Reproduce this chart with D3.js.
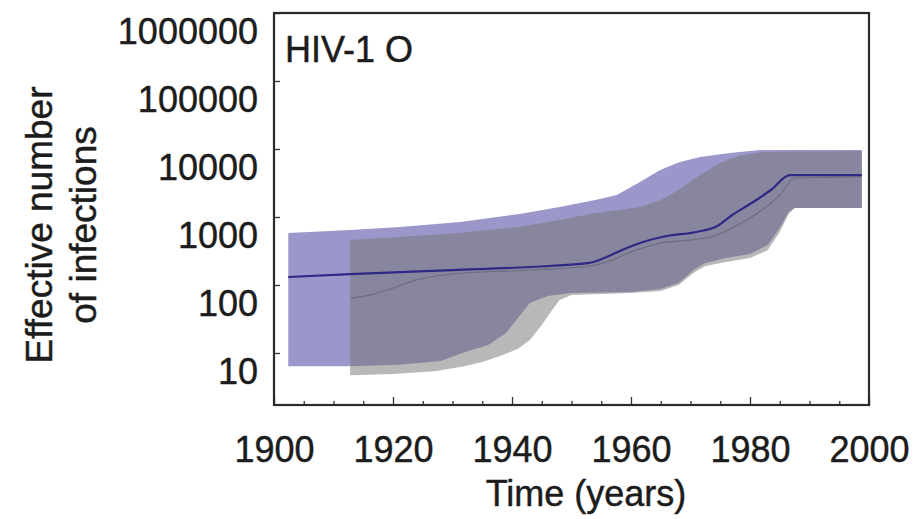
<!DOCTYPE html>
<html>
<head>
<meta charset="utf-8">
<script src="https://cdn.jsdelivr.net/npm/d3@7"></script>
<style>
  html, body { margin: 0; padding: 0; background: #ffffff; }
  svg { display: block; }
  text { font-family: "Liberation Sans", Arial, Helvetica, sans-serif; fill: #1c1c1c; stroke: #1c1c1c; stroke-width: 0.45px; }
</style>
</head>
<body>
<svg id="chart" width="924" height="519"></svg>
<script>
// ---------------- data ----------------
const panelLabel = "HIV-1 O";
const xTickYears = [1900, 1920, 1940, 1960, 1980, 2000];
const xMinorYears = [1905, 1910, 1915, 1925, 1930, 1935, 1945, 1950, 1955, 1965, 1970, 1975, 1985, 1990, 1995];
const yTickValues = [10, 100, 1000, 10000, 100000, 1000000];
const xTitle = "Time (years)";
const yTitleLines = ["Effective number", "of infections"];

// median estimate (dark blue line): [year, value]
const medianLine = [
  [1902.4, 131], [1912.8, 145], [1930, 166], [1943, 184], [1953, 211],
  [1955.5, 249], [1958.5, 327], [1962, 429], [1966, 526], [1971, 602],
  [1974.5, 737], [1977, 1069], [1980, 1552], [1983.5, 2494], [1986.7, 4140],
  [1998.8, 4140]
];
// second (grey) median line
const greyMedianLine = [
  [1912.8, 64], [1916, 71], [1920, 90], [1924, 119], [1930, 145], [1943, 166],
  [1953, 190], [1956, 218], [1960, 305], [1965, 414], [1970, 459], [1974, 526],
  [1978, 763], [1982, 1268], [1985, 2105], [1987.5, 3750], [1998.8, 3873]
];
// purple credible band
const purpleUpper = [
  [1902.4, 582], [1912.8, 644], [1921.2, 713], [1931.3, 844], [1941.3, 1107],
  [1948, 1403], [1954, 1778], [1957.6, 2105], [1961.5, 3273], [1964.9, 4909],
  [1968.2, 6440], [1971.6, 7621], [1976.6, 8730], [1981.7, 9660], [1998.8, 9660]
];
const purpleLower = [
  [1902.4, 6.4], [1912.8, 6.4], [1921, 6.7], [1928, 7.6], [1932, 10.3],
  [1936, 13.1], [1939, 19.7], [1941, 32.7], [1943, 54.3], [1946, 68.9],
  [1950, 76.2], [1960, 78.9], [1965, 87.3], [1968, 107], [1970.5, 166],
  [1972.5, 210], [1976, 249], [1980, 286], [1983, 387], [1985, 689],
  [1986.5, 1186], [1987.5, 1355], [1998.8, 1355]
];
// grey credible band
const greyUpper = [
  [1912.8, 459], [1921, 508], [1931, 582], [1941, 713], [1948, 904],
  [1954, 1146], [1958, 1268], [1961.5, 1403], [1965, 1778], [1968, 2495],
  [1971.6, 4140], [1975, 6220], [1978, 7890], [1982, 9040], [1998.8, 9330]
];
const greyLower = [
  [1912.8, 4.7], [1920, 4.9], [1927, 5.4], [1932, 6.4], [1935, 7.4],
  [1938, 9.0], [1941, 11.5], [1943, 15.5], [1945, 25.8], [1946.5, 40.1],
  [1948, 60.1], [1950, 71.3], [1960, 76.2], [1965, 81.6], [1968, 100],
  [1970.5, 150], [1972.5, 190], [1976, 218], [1980, 249], [1983, 327],
  [1985, 601], [1986.5, 1107], [1987.5, 1355], [1998.8, 1355]
];

// ---------------- layout ----------------
const plot = { left: 274, right: 869, top: 13, bottom: 405 };
const fontSize = 36;

const svg = d3.select("#chart");

const x = d3.scaleLinear().domain([1900, 2000]).range([plot.left, plot.right]);
const y = d3.scaleLog().domain([Math.pow(10, 0.2353), 1e6]).range([plot.bottom, plot.top]);

const line = d3.line().x(d => x(d[0])).y(d => y(d[1]));
const poly = (upper, lower) => line.curve(d3.curveLinearClosed)(upper.concat(lower.slice().reverse()));

svg.append("clipPath").attr("id", "clip")
  .append("rect").attr("x", plot.left).attr("y", plot.top)
  .attr("width", plot.right - plot.left).attr("height", plot.bottom - plot.top);

const g = svg.append("g").attr("clip-path", "url(#clip)");

// purple band
g.append("path").attr("d", poly(purpleUpper, purpleLower))
  .attr("fill", "#9c97ca").attr("stroke", "none");
// grey band (semi-transparent over purple)
g.append("path").attr("d", poly(greyUpper, greyLower))
  .attr("fill", "#767676").attr("fill-opacity", 0.52).attr("stroke", "none");

// grey median
g.append("path").attr("d", line.curve(d3.curveMonotoneX)(greyMedianLine))
  .attr("fill", "none").attr("stroke", "#555560").attr("stroke-width", 1.1).attr("stroke-opacity", 0.55);
// median line
g.append("path").attr("d", line.curve(d3.curveMonotoneX)(medianLine))
  .attr("fill", "none").attr("stroke", "#2e2984").attr("stroke-width", 2.2);

// ---------------- axes ----------------
const xAxis = svg.append("g").attr("transform", `translate(0,${plot.bottom})`)
  .call(d3.axisBottom(x).tickValues(xTickYears).tickFormat(d3.format("d"))
    .tickSize(-8).tickPadding(31));
const xMinor = svg.append("g").attr("transform", `translate(0,${plot.bottom})`)
  .call(d3.axisBottom(x).tickValues(xMinorYears).tickFormat("").tickSize(-4));

const yAxis = svg.append("g").attr("transform", `translate(${plot.left},0)`)
  .call(d3.axisLeft(y).tickValues(yTickValues).tickFormat(d3.format("d"))
    .tickSize(-6).tickPadding(16));
yAxis.selectAll("text").attr("y", 19);

[xAxis, xMinor, yAxis].forEach(a => {
  a.select(".domain").remove();
  a.selectAll("line").attr("stroke", "#333").attr("stroke-width", 1.3);
  a.selectAll("text").style("font-size", fontSize + "px").attr("fill", "#1c1c1c");
});

// frame
svg.append("rect").attr("x", plot.left).attr("y", plot.top)
  .attr("width", plot.right - plot.left).attr("height", plot.bottom - plot.top)
  .attr("fill", "none").attr("stroke", "#2a2a2a").attr("stroke-width", 2.2);

// panel label
svg.append("text").attr("x", 285).attr("y", 62)
  .style("font-size", fontSize + "px").text(panelLabel);

// x title
svg.append("text").attr("x", 586).attr("y", 506).attr("text-anchor", "middle")
  .style("font-size", fontSize + "px").text(xTitle);

// y title (two lines, rotated)
yTitleLines.forEach((t, i) => {
  svg.append("text")
    .attr("transform", `translate(${52 + i * 44},225) rotate(-90)`)
    .attr("text-anchor", "middle")
    .style("font-size", (fontSize + 1) + "px").text(t);
});
</script>
</body>
</html>
